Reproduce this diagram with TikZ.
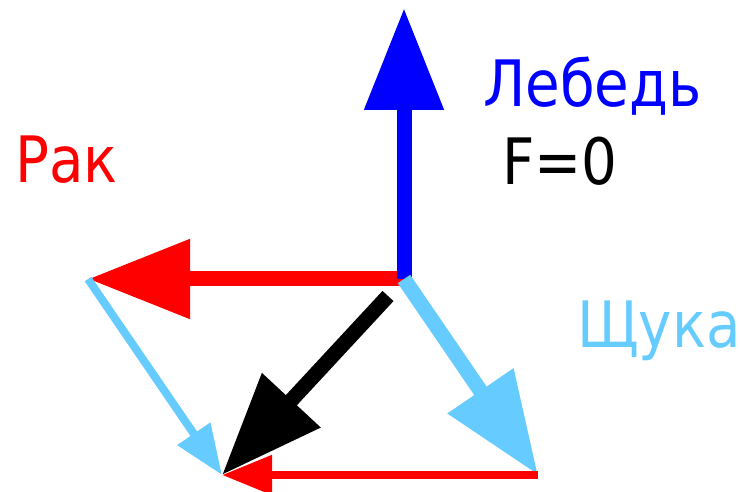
\documentclass[tikz,border=0pt]{standalone}
\usepackage{fontspec}
\newfontfamily\labelfont[FakeStretch=0.88]{DejaVu Sans}
\usetikzlibrary{arrows.meta}
\definecolor{pikeblue}{HTML}{66CCFF}
\begin{document}
\begin{tikzpicture}[x=1pt, y=-1pt,
    lbl/.style={inner sep=0, anchor=base west, font=\labelfont\fontsize{64}{64}\selectfont},
    bigforce/.style={line width=15pt, -{Triangle[length=102pt, width=76pt]}},
    smallforce/.style={line width=8pt, -{Triangle[length=50pt, width=38pt]}}]
  \useasboundingbox (0,0) rectangle (740,492);
  \coordinate (o) at (404,279);
  \coordinate (swan) at (404,8);
  \coordinate (crab) at (88,279);
  \coordinate (pike) at (538,475);
  \coordinate (sum) at (222,475);
  \coordinate (s0) at (388,296);
  \node[lbl, text=blue] (swanlbl) at (483,107) {Лебедь};
  \node[lbl] (flbl) at (502,185) {F=0};
  \node[lbl, text=red] (crablbl) at (15,183) {Рак};
  \node[lbl, text=pikeblue] (pikelbl) at (577,348) {Щука};
  \draw[bigforce, red] (o) -- (crab);
  \draw[bigforce, blue] (o) -- (swan);
  \draw[bigforce, pikeblue] (o) -- (pike);
  \draw[smallforce, red] (pike) -- (sum);
  \draw[smallforce, pikeblue] (crab) -- (sum);
  \draw[bigforce, black] (s0) -- (sum);
\end{tikzpicture}
\end{document}
